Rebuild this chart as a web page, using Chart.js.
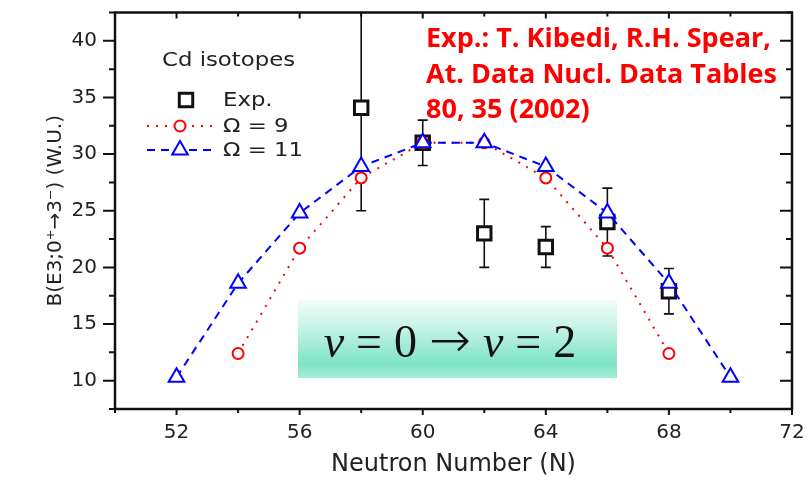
<!DOCTYPE html>
<html>
<head>
<meta charset="utf-8">
<script src="https://cdn.jsdelivr.net/npm/chart.js@4.4.1/dist/chart.umd.min.js"></script>
<style>
  html, body { margin: 0; padding: 0; background: #fff; }
  canvas { display: block; }
</style>
</head>
<body>
<canvas id="be3_chart" width="811" height="482"></canvas>
<script>
// values
var neutronExp = [58, 60, 62, 64, 66, 68];
var bExp = [34.1, 31, 23, 21.8, 24, 17.9];
var bExpErr = [9.1, 2, 3, 1.8, 3, 2];
var neutronOmega9 = [54, 56, 58, 60, 62, 64, 66, 68];
var bOmega9 = [12.4, 21.7, 27.9, 31, 31, 27.9, 21.7, 12.4];
var neutronOmega11 = [52, 54, 56, 58, 60, 62, 64, 66, 68, 70];
var bOmega11 = [10.3, 18.6, 24.8, 28.9, 31, 31, 28.9, 24.8, 18.6, 10.3];
var xTickLabels = [52, 56, 60, 64, 68, 72];
var yTickLabels = [10, 15, 20, 25, 30, 35, 40];
var seriesNames = ['Exp.', 'Ω = 9', 'Ω = 11'];
var legendTitle = 'Cd isotopes';
var refLines = ['Exp.: T. Kibedi, R.H. Spear,', 'At. Data Nucl. Data Tables', '80, 35 (2002)'];
var boxParts = [['v', 'italic 46px "Liberation Serif"'], ['=', '46px "Liberation Serif"'], ['0', '46px "Liberation Serif"'],
                ['→', '200 50px "DejaVu Sans"'], ['v', 'italic 46px "Liberation Serif"'], ['=', '46px "Liberation Serif"'],
                ['2', '46px "Liberation Serif"']];

function pairs(xs, ys) {
    return xs.map(function (v, i) { return {x: v, y: ys[i]}; });
}

function marker(ctx, style, x, y, r) {
    ctx.beginPath();
    if (style === 'rect') {
        var s = r * Math.SQRT1_2;
        ctx.rect(x - s, y - s, 2 * s, 2 * s);
    } else if (style === 'triangle') {
        ctx.moveTo(x, y - r);
        ctx.lineTo(x + 0.866 * r, y + 0.5 * r);
        ctx.lineTo(x - 0.866 * r, y + 0.5 * r);
        ctx.closePath();
    } else {
        ctx.arc(x, y, r, 0, Math.PI * 2);
    }
    ctx.fill();
    ctx.stroke();
}

function wideText(ctx, text, x, y, sx) {
    ctx.save();
    ctx.translate(x, y);
    ctx.scale(sx, 1);
    ctx.fillText(text, 0, 0);
    ctx.restore();
}

var whiteBg = {
    id: 'whiteBg',
    beforeDraw: function (chart) {
        var ctx = chart.ctx;
        ctx.save();
        ctx.fillStyle = '#fff';
        ctx.fillRect(0, 0, chart.width, chart.height);
        ctx.restore();
    }
};

var errorBars = {
    id: 'errorBars',
    beforeDatasetsDraw: function (chart) {
        var ctx = chart.ctx, a = chart.chartArea, sx = chart.scales.x, sy = chart.scales.y;
        ctx.save();
        ctx.beginPath();
        ctx.rect(a.left, a.top, a.right - a.left, a.bottom - a.top);
        ctx.clip();
        ctx.strokeStyle = '#111';
        ctx.lineWidth = 1.6;
        ctx.beginPath();
        neutronExp.forEach(function (n, i) {
            var px = sx.getPixelForValue(n);
            var hi = sy.getPixelForValue(bExp[i] + bExpErr[i]);
            var lo = sy.getPixelForValue(bExp[i] - bExpErr[i]);
            ctx.moveTo(px, hi); ctx.lineTo(px, lo);
            ctx.moveTo(px - 5, hi); ctx.lineTo(px + 5, hi);
            ctx.moveTo(px - 5, lo); ctx.lineTo(px + 5, lo);
        });
        ctx.stroke();
        ctx.restore();
    }
};

var decor = {
    id: 'decor',
    afterDatasetsDraw: function (chart) {
        var ctx = chart.ctx;
        ctx.save();

        // legend
        ctx.fillStyle = '#222';
        ctx.font = '19px "DejaVu Sans"';
        ctx.textBaseline = 'alphabetic';
        wideText(ctx, legendTitle, 162, 66, 1.2);
        var rows = [100, 126, 150];
        chart.data.datasets.forEach(function (ds, i) {
            var y = rows[i];
            if (ds.showLine !== false) {
                ctx.strokeStyle = ds.borderColor;
                ctx.lineWidth = ds.borderWidth;
                ctx.setLineDash(ds.borderDash || []);
                ctx.beginPath();
                ctx.moveTo(147, y); ctx.lineTo(213, y);
                ctx.stroke();
            }
            ctx.setLineDash([]);
            ctx.fillStyle = ds.pointBackgroundColor;
            ctx.strokeStyle = ds.pointBorderColor;
            ctx.lineWidth = ds.pointBorderWidth;
            marker(ctx, ds.pointStyle, i === 0 ? 186 : 180, y, ds.pointRadius);
            ctx.fillStyle = '#222';
            wideText(ctx, ds.label, 223, y + 6, 1.2);
        });

        // reference note
        ctx.fillStyle = '#ff0000';
        ctx.font = 'bold 27px "Open Sans"';
        refLines.forEach(function (t, i) {
            ctx.fillText(t, 426, 47 + i * 35.5);
        });

        // seniority box
        var g = ctx.createLinearGradient(0, 300, 0, 378);
        g.addColorStop(0, '#f4fdfa');
        g.addColorStop(0.4, '#bff1e2');
        g.addColorStop(0.82, '#7ee4c6');
        g.addColorStop(1, '#a8ecd8');
        ctx.fillStyle = g;
        ctx.fillRect(298, 300, 319, 78);
        var gap = 12, total = 0;
        boxParts.forEach(function (p) {
            ctx.font = p[1];
            total += ctx.measureText(p[0]).width;
        });
        total += gap * (boxParts.length - 1);
        var cx = 450 - total / 2;
        ctx.fillStyle = '#111';
        boxParts.forEach(function (p) {
            ctx.font = p[1];
            ctx.fillText(p[0], cx, 357);
            cx += ctx.measureText(p[0]).width + gap;
        });

        ctx.restore();
    }
};

var frame = {
    id: 'frame',
    afterDraw: function (chart) {
        var ctx = chart.ctx, a = chart.chartArea, sx = chart.scales.x, sy = chart.scales.y;
        ctx.save();
        ctx.strokeStyle = '#111';
        ctx.lineWidth = 2.5;
        ctx.strokeRect(a.left, a.top, a.right - a.left, a.bottom - a.top);
        ctx.lineWidth = 2;
        ctx.beginPath();
        sx.ticks.forEach(function (t) {
            var px = sx.getPixelForValue(t.value);
            var len = xTickLabels.indexOf(t.value) >= 0 ? 6 : 4;
            ctx.moveTo(px, a.bottom); ctx.lineTo(px, a.bottom + len);
            ctx.moveTo(px, a.top); ctx.lineTo(px, a.top + len);
        });
        sy.ticks.forEach(function (t) {
            var py = sy.getPixelForValue(t.value);
            var len = yTickLabels.indexOf(t.value) >= 0 ? 12 : 6;
            ctx.moveTo(a.left - len, py); ctx.lineTo(a.left, py);
            ctx.moveTo(a.right - len, py); ctx.lineTo(a.right, py);
        });
        ctx.stroke();
        ctx.restore();
    }
};

var chx = document.getElementById('be3_chart');
var bChart = new Chart(chx, {
    type: 'line',
    data: {
        datasets: [{
            label: seriesNames[0],
            data: pairs(neutronExp, bExp),
            showLine: false,
            pointStyle: 'rect',
            pointRadius: 9.5,
            pointBorderWidth: 3,
            pointBorderColor: '#111',
            pointBackgroundColor: '#fff',
            order: 3
        }, {
            label: seriesNames[1],
            data: pairs(neutronOmega9, bOmega9),
            borderColor: '#ff0000',
            borderWidth: 2,
            borderDash: [2, 7],
            pointStyle: 'circle',
            pointRadius: 5.5,
            pointBorderWidth: 2,
            pointBorderColor: '#ff0000',
            pointBackgroundColor: '#fff',
            order: 2
        }, {
            label: seriesNames[2],
            data: pairs(neutronOmega11, bOmega11),
            borderColor: '#0000ff',
            borderWidth: 2,
            borderDash: [8, 6],
            pointStyle: 'triangle',
            pointRadius: 9,
            pointBorderWidth: 2,
            pointBorderColor: '#0000ff',
            pointBackgroundColor: '#fff',
            order: 1
        }]
    },
    options: {
        responsive: false,
        animation: false,
        events: [],
        layout: {padding: {left: 0, right: 19, top: 9, bottom: 0}},
        plugins: {legend: {display: false}, tooltip: {enabled: false}},
        scales: {
            x: {
                type: 'linear',
                min: 50,
                max: 72,
                afterFit: function (s) { s.height = 73; s.paddingLeft = 0; s.paddingRight = 0; },
                grid: {display: false, drawTicks: false},
                border: {display: false},
                ticks: {
                    stepSize: 2,
                    autoSkip: false,
                    maxRotation: 0,
                    padding: 12,
                    color: '#222',
                    font: {family: 'DejaVu Sans', size: 20},
                    callback: function (v) { return xTickLabels.indexOf(v) >= 0 ? String(v) : ''; }
                },
                title: {
                    display: true,
                    text: 'Neutron Number (N)',
                    color: '#222',
                    font: {family: 'DejaVu Sans', size: 24},
                    padding: {top: 0, bottom: 3}
                }
            },
            y: {
                type: 'linear',
                min: 7.5,
                max: 42.5,
                afterFit: function (s) { s.width = 115; s.paddingTop = 0; s.paddingBottom = 0; },
                grid: {display: false, drawTicks: false},
                border: {display: false},
                ticks: {
                    stepSize: 2.5,
                    autoSkip: false,
                    padding: 18,
                    color: '#222',
                    font: {family: 'DejaVu Sans', size: 20},
                    callback: function (v) { return yTickLabels.indexOf(v) >= 0 ? String(v) : ''; }
                },
                title: {
                    display: true,
                    text: 'B(E3;0⁺→3⁻) (W.U.)',
                    color: '#222',
                    font: {family: 'DejaVu Sans', size: 20},
                    padding: {top: 44, bottom: 0}
                }
            }
        }
    },
    plugins: [whiteBg, errorBars, decor, frame]
});
</script>
</body>
</html>
